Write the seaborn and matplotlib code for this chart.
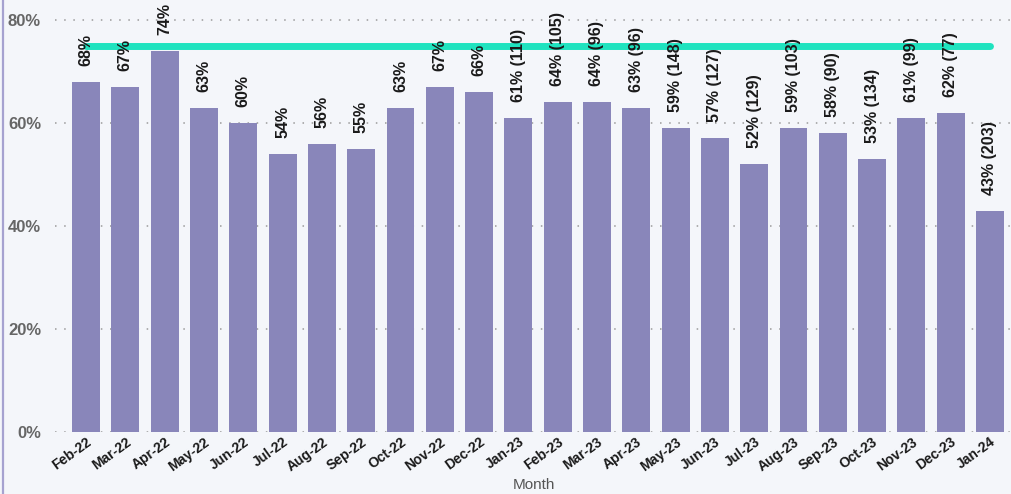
import matplotlib
matplotlib.use("Agg")
import matplotlib.pyplot as plt
from matplotlib.lines import Line2D
from matplotlib.ticker import FuncFormatter
import seaborn as sns
import pandas as pd

months = ["Feb-22", "Mar-22", "Apr-22", "May-22", "Jun-22", "Jul-22", "Aug-22",
          "Sep-22", "Oct-22", "Nov-22", "Dec-22", "Jan-23", "Feb-23", "Mar-23",
          "Apr-23", "May-23", "Jun-23", "Jul-23", "Aug-23", "Sep-23", "Oct-23",
          "Nov-23", "Dec-23", "Jan-24"]
pct = [68, 67, 74, 63, 60, 54, 56, 55, 63, 67, 66, 61, 64, 64, 63, 59, 57, 52,
       59, 58, 53, 61, 62, 43]
counts = [None] * 11 + [110, 105, 96, 96, 148, 127, 129, 103, 90, 134, 99, 77, 203]
target = 75
y_ticks = [0, 20, 40, 60, 80]

BG = "#F4F6FA"
BAR = "#8986BA"
TARGET = "#1FE3BF"

sns.set_theme(style="white")
plt.rcParams["font.family"] = ["Liberation Sans", "DejaVu Sans"]

df = pd.DataFrame({"Month": months, "pct": pct})

fig = plt.figure(figsize=(10.12, 4.94), dpi=100, facecolor=BG)
ax = fig.add_axes([55 / 1012, 62 / 494, 957 / 1012, 432 / 494])
ax.set_facecolor(BG)

sns.barplot(data=df, x="Month", y="pct", color=BAR, width=0.71,
            saturation=1, linewidth=0, ax=ax, zorder=2)

# target line
ax.plot(months, [target] * len(months), color=TARGET, lw=5,
        solid_capstyle="round", zorder=3)

# value labels
for i, (p, c) in enumerate(zip(pct, counts)):
    txt = f"{p}%" if c is None else f"{p}% ({c})"
    ax.annotate(txt, (i, p), xytext=(0, 11.5), textcoords="offset points",
                rotation=90, ha="center", va="bottom", fontsize=11.5,
                fontweight="bold", color="#1A1A1A", zorder=4)

ax.set_xlim(-0.79, len(months) - 1 + 0.56)
ax.set_ylim(0, 80 + 20 / 412 * 80)
ax.set_yticks(y_ticks)
ax.yaxis.set_major_formatter(FuncFormatter(lambda v, _: f"{v:.0f}%"))
ax.grid(axis="y", color="#9A9A9A", linestyle=(0, (1, 5)), linewidth=1.1, zorder=1)
ax.grid(axis="x", visible=False)
for s in ax.spines.values():
    s.set_visible(False)

ax.tick_params(axis="y", length=0, pad=10, labelsize=12, labelcolor="#666666")
for t in ax.get_yticklabels():
    t.set_fontweight("bold")
ax.tick_params(axis="x", length=0, pad=2, labelsize=10, labelcolor="#1A1A1A")
for t in ax.get_xticklabels():
    t.set_rotation(36)
    t.set_ha("right")
    t.set_rotation_mode("anchor")
    t.set_fontweight("bold")

ax.set_ylabel("")
ax.set_xlabel("Month", fontsize=11, color="#555555", labelpad=3)

# left accent border
fig.add_artist(Line2D([3 / 1012, 3 / 1012], [0, 1], transform=fig.transFigure,
                      color="#A6A2D0", lw=1.6))

fig.savefig("out.png", dpi=100, facecolor=BG)
